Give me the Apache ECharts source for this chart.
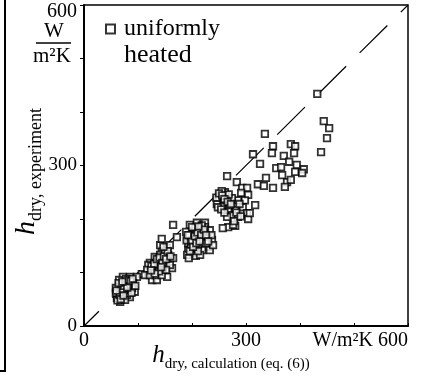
<!DOCTYPE html>
<html>
<head>
<meta charset="utf-8">
<script src="https://cdn.jsdelivr.net/npm/echarts@6/dist/echarts.min.js"></script>
<style>
html, body { margin: 0; padding: 0; background: #fff; }
#chart { width: 427px; height: 383px; }
</style>
</head>
<body>
<div id="chart"></div>
<script>
// h_dry 计算值 (x) 与 实验值 (y)，单位 W/m²K
var calcX = [
    // 低区
    107, 98, 85, 72, 76, 91, 67, 81, 63, 72, 85, 67, 94, 61, 59, 65, 78, 70, 80, 89, 63, 76, 69, 83, 59, 74,
    62, 66, 70, 74, 78, 82, 86, 90, 95, 68, 73, 60, 64, 88, 80, 71,
    // 第二团
    165, 163, 154, 126, 135, 131, 144, 154, 150, 137, 126, 122, 128, 146, 156, 137, 119, 117, 141, 150, 159, 141, 133, 144, 113, 122, 159, 152,
    125, 130, 135, 140, 145, 148, 152, 139, 131, 124, 143, 155, 147, 160,
    // 第三团
    209, 224, 237, 230, 219, 200, 193, 196, 202, 215, 224, 211, 206, 191, 196, 206, 193, 198, 220, 228, 233, 213, 189, 194, 207, 233, 239, 215, 202,
    165, 172, 144, 224, 218, 203, 190, 236, 226, 211, 198,
    195, 200, 205, 210, 217, 222, 196, 202, 208, 214, 226, 200, 192, 212, 230,
    // 上部散点
    432, 444, 454, 450, 439, 335, 350, 348, 383, 391, 389, 370, 313, 326, 356, 365, 380, 394, 407, 391, 404, 367, 376, 383, 372,
    337, 322, 333, 350, 265, 283, 293, 302, 291, 304, 317, 298, 285, 294, 280, 267, 274, 302, 304, 285, 265, 267, 280, 257,
    248, 261, 252, 256, 270, 263, 274, 250, 258, 246, 262, 255, 268, 276, 307,
    245, 250, 256, 260, 266, 272, 248, 254, 260, 278, 282, 290, 288
];
var expY = [
    97, 92, 92, 92, 80, 80, 73, 67, 62, 52, 54, 45, 64, 52, 71, 86, 88, 60, 58, 71, 56, 49, 77, 77, 62, 67,
    48, 58, 68, 75, 82, 86, 84, 88, 75, 50, 57, 66, 80, 62, 72, 83,
    127, 108, 92, 86, 86, 129, 142, 146, 123, 110, 108, 118, 101, 105, 133, 120, 114, 105, 133, 138, 151, 151, 95, 95, 95, 95, 114, 105,
    112, 116, 125, 128, 118, 130, 125, 102, 98, 104, 110, 140, 148, 130,
    193, 193, 161, 148, 142, 136, 142, 166, 179, 164, 174, 151, 146, 133, 189, 183, 155, 151, 161, 164, 179, 179, 176, 127, 131, 142, 151, 133, 164,
    189, 166, 163, 185, 188, 172, 160, 170, 155, 140, 158,
    170, 160, 168, 175, 170, 180, 140, 148, 155, 158, 170, 185, 170, 186, 158,
    434, 383, 370, 351, 325, 359, 336, 323, 340, 336, 323, 318, 321, 303, 295, 297, 307, 301, 293, 288, 286, 282, 269, 273, 260,
    277, 265, 262, 258, 280, 269, 258, 258, 249, 245, 226, 235, 235, 222, 217, 217, 207, 211, 200, 204, 204, 185, 187, 183,
    232, 250, 245, 226, 226, 235, 239, 240, 238, 228, 244, 252, 246, 189, 211,
    240, 248, 244, 237, 232, 228, 222, 218, 212, 196, 212, 205, 228
];
// 对角线 y = x
var diagX = [0, 600];
var diagY = [0, 600];
var yTickLabels = [0, 300, 600];
var xTickLabels = [0, 300, 600];

var FONT = '"Liberation Serif", "DejaVu Serif", serif';

var points = [];
for (var i = 0; i < calcX.length; i++)
    points.push([calcX[i], expY[i]]);
var diag = [];
for (var i = 0; i < diagX.length; i++)
    diag.push([diagX[i], diagY[i]]);

var chart = echarts.init(document.getElementById('chart'), null, {renderer: 'canvas'});
var option = {
    backgroundColor: '#fff',
    animation: false,
    grid: {
        left: 84, right: 19, top: 5, bottom: 57,
        show: true, borderColor: '#000', borderWidth: 1.5,
        containLabel: false, outerBoundsMode: 'none'
    },
    legend: {
        show: true,
        left: 100, top: 12,
        itemWidth: 9, itemHeight: 9,
        textStyle: {fontFamily: FONT, fontSize: 24, color: '#000', padding: [0, 0, 0, 4]},
        data: [{name: 'uniformly', icon: 'rect'}]
    },
    xAxis: {
        type: 'value', min: 0, max: 600, interval: 100,
        name: '{h|h}{s|dry, calculation (eq. (6))}',
        nameLocation: 'middle', nameGap: 17, nameMoveOverlap: false,
        nameTextStyle: {
            padding: [0, 30, 0, 0],
            rich: {
                h: {fontFamily: FONT, fontStyle: 'italic', fontSize: 25, color: '#000', verticalAlign: 'bottom'},
                s: {fontFamily: FONT, fontSize: 15, color: '#000', verticalAlign: 'bottom', padding: [0, 0, -4, 0]}
            }
        },
        axisLine: {show: true, lineStyle: {color: '#000', width: 2}},
        axisTick: {show: true, inside: true, length: 3, lineStyle: {color: '#000', width: 1}},
        splitLine: {show: false},
        axisLabel: {
            fontFamily: FONT, fontSize: 20, color: '#000', margin: 5,
            showMaxLabel: true, alignMaxLabel: 'right',
            formatter: function (v) {
                if (xTickLabels.indexOf(v) < 0) return '';
                if (v === 600) return 'W/m²K ' + v;
                return String(v);
            }
        }
    },
    yAxis: {
        type: 'value', min: 0, max: 600, interval: 100,
        name: '{h|h}{s|dry, experiment}',
        nameLocation: 'middle', nameGap: 43, nameRotate: 90, nameMoveOverlap: false,
        nameTextStyle: {
            padding: [0, 12, 0, 0],
            rich: {
                h: {fontFamily: FONT, fontStyle: 'italic', fontSize: 28, color: '#000', verticalAlign: 'bottom'},
                s: {fontFamily: FONT, fontSize: 18, color: '#000', verticalAlign: 'bottom', padding: [0, 0, -4, 0]}
            }
        },
        axisLine: {show: true, lineStyle: {color: '#000', width: 2}},
        axisTick: {show: true, inside: false, length: 4, lineStyle: {color: '#000', width: 1}},
        splitLine: {show: false},
        axisLabel: {
            fontFamily: FONT, fontSize: 19, color: '#000', margin: 7,
            showMaxLabel: true,
            formatter: function (v) {
                if (yTickLabels.indexOf(v) < 0) return '';
                if (v === 600) return '{t|' + v + '}';
                return String(v);
            },
            rich: {t: {fontFamily: FONT, fontSize: 20, color: '#000', padding: [14, 0, 0, 0]}}
        }
    },
    graphic: [
        // 纵轴单位 W / m²K
        {type: 'text', left: 44, top: 21, style: {text: 'W', font: '21px ' + FONT, fill: '#000'}},
        {type: 'line', shape: {x1: 36, y1: 43, x2: 71, y2: 43}, style: {stroke: '#000', lineWidth: 1.5}},
        {type: 'text', left: 33, top: 46, style: {text: 'm²K', font: '21px ' + FONT, fill: '#000'}},
        // 图例第二行
        {type: 'text', left: 124, top: 42, style: {text: 'heated', font: '26px ' + FONT, fill: '#000'}},
        // 左侧相邻图框
        {type: 'line', shape: {x1: 5, y1: 0, x2: 5, y2: 371}, style: {stroke: '#000', lineWidth: 2}},
        {type: 'line', shape: {x1: 0, y1: 371, x2: 6, y2: 371}, style: {stroke: '#000', lineWidth: 2}}
    ],
    series: [
        {
            type: 'line', name: 'diag', data: diag,
            symbol: 'none', silent: true, z: 1,
            lineStyle: {color: '#000', width: 1.2, type: [39, 19], dashOffset: 18}
        },
        {
            type: 'scatter', name: 'uniformly', data: points,
            symbol: 'rect', symbolSize: 6.5, z: 3,
            itemStyle: {color: '#fff', borderColor: '#000', borderWidth: 1.8}
        }
    ]
};
chart.setOption(option);
</script>
</body>
</html>
